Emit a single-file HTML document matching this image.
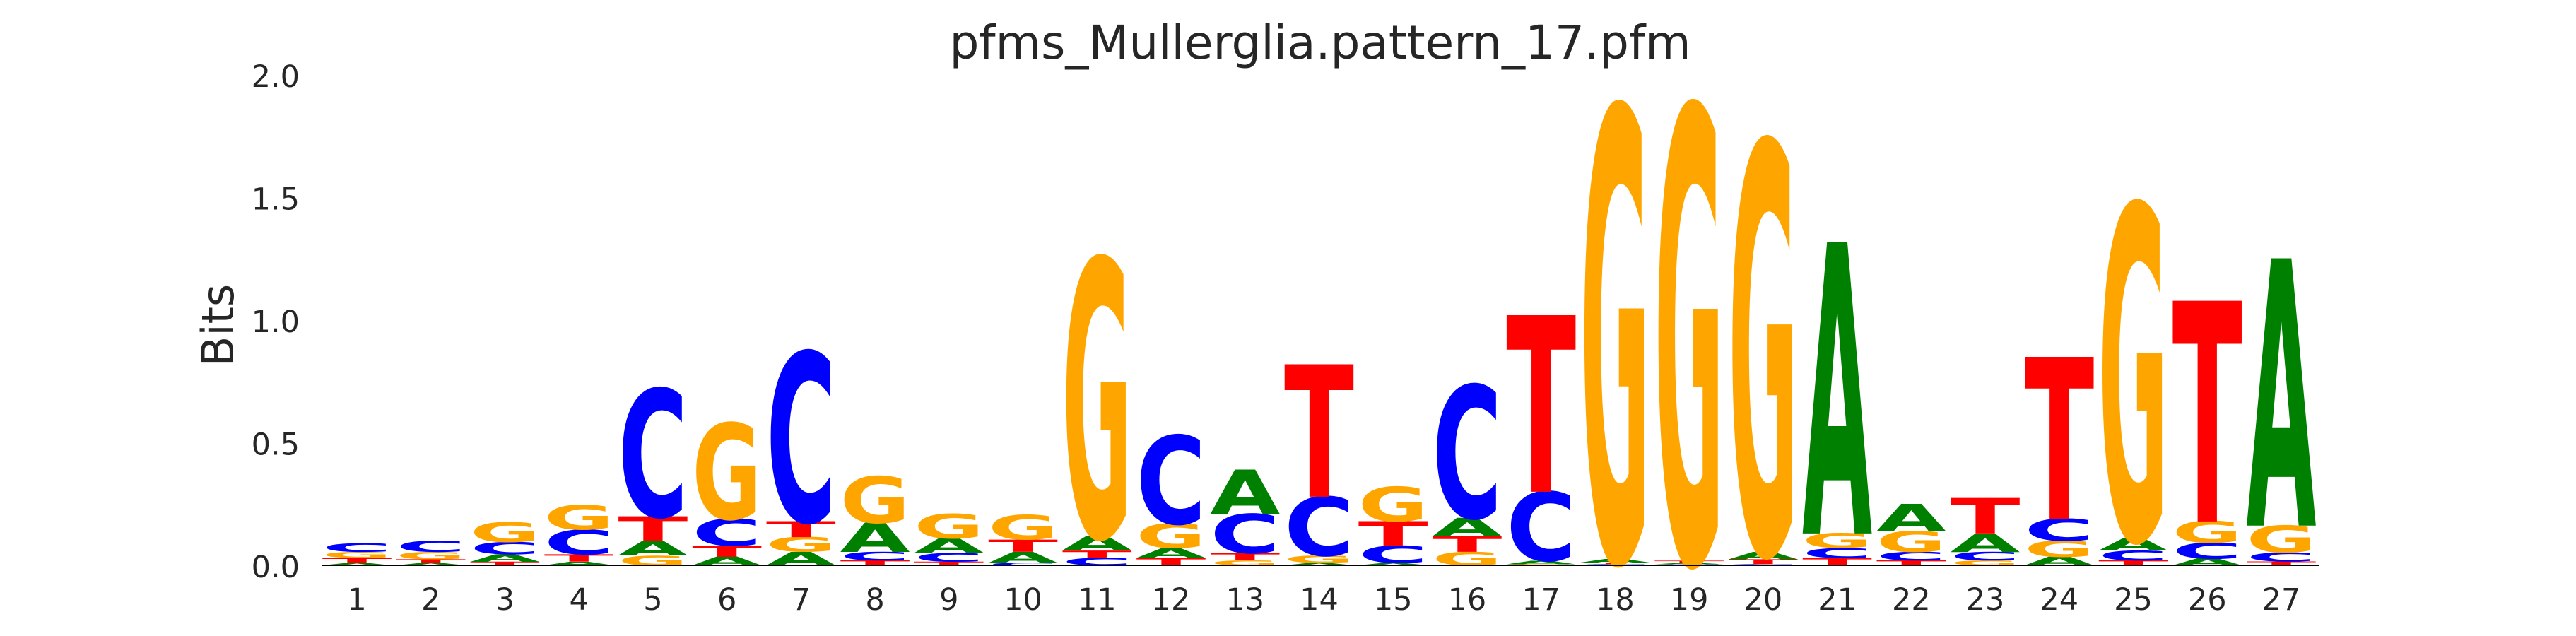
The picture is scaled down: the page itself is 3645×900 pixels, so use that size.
<!DOCTYPE html>
<html><head><meta charset="utf-8"><style>
html,body{margin:0;padding:0;background:#fff;width:3645px;height:900px;overflow:hidden;}
svg{display:block;overflow:hidden;}
text{font-family:"DejaVu Sans","Liberation Sans",sans-serif;}
</style></head><body>
<svg id="chart" width="3645" height="900" viewBox="0 0 3645 900" xmlns="http://www.w3.org/2000/svg">
<text x="1868" y="83" font-size="66" fill="#262626" text-anchor="middle" textLength="1049" lengthAdjust="spacingAndGlyphs">pfms_Mullerglia.pattern_17.pfm</text>
<text transform="translate(330,460) rotate(-90)" font-size="62" fill="#262626" text-anchor="middle">Bits</text>
<g id="yticks"></g>
<g id="xticks"></g>
<g id="letters"></g>
<line x1="456" y1="800" x2="3281" y2="800" stroke="#000" stroke-width="2"/>
</svg>
<script>
const positions = [1,2,3,4,5,6,7,8,9,10,11,12,13,14,15,16,17,18,19,20,21,22,23,24,25,26,27];
const valsA = [0.010,0.010,0.030,0.015,0.060,0.035,0.055,0.120,0.060,0.045,0.060,0.040,0.180,0.010,0.010,0.075,0.015,0.015,0.005,0.030,1.190,0.110,0.075,0.035,0.050,0.027,1.090];
const valsC = [0.035,0.045,0.050,0.100,0.520,0.110,0.690,0.035,0.035,0.010,0.030,0.360,0.160,0.240,0.070,0.540,0.280,0.005,0.004,0.005,0.040,0.035,0.035,0.090,0.040,0.065,0.036];
const valsG = [0.025,0.030,0.080,0.100,0.040,0.390,0.060,0.190,0.100,0.100,1.130,0.100,0.020,0.030,0.140,0.055,0.005,1.840,1.850,1.670,0.060,0.085,0.020,0.065,1.360,0.087,0.110];
const valsT = [0.020,0.015,0.015,0.030,0.100,0.045,0.065,0.020,0.015,0.050,0.030,0.030,0.030,0.540,0.100,0.065,0.720,0.006,0.010,0.020,0.030,0.020,0.145,0.660,0.020,0.900,0.016];
const yTicks = [0.0,0.5,1.0,1.5,2.0];
const yTickLabels = ["0.0","0.5","1.0","1.5","2.0"];

const NS = "http://www.w3.org/2000/svg";
const baseY = 800, pxPerBit = 347, x0 = 505, step = 104.73, letterW = 99;
const colors = {A:"#008000", C:"#0000ff", G:"#ffa500", T:"#ff0000"};
function xScale(i){ return x0 + i*step; }
function yScale(v){ return baseY - v*pxPerBit; }

const yg = document.getElementById("yticks");
yTicks.forEach((v,k)=>{
  const t = document.createElementNS(NS,"text");
  
  
  t.setAttribute("x", 424); t.setAttribute("y", yScale(v)+17);
  t.setAttribute("font-size", 43); t.setAttribute("fill", "#262626");
  t.setAttribute("text-anchor", "end");
  t.textContent = yTickLabels[k];
  yg.appendChild(t);
});
const xg = document.getElementById("xticks");
positions.forEach((p,i)=>{
  const t = document.createElementNS(NS,"text");
  
  
  t.setAttribute("x", xScale(i)); t.setAttribute("y", 863);
  t.setAttribute("font-size", 43); t.setAttribute("fill", "#262626");
  t.setAttribute("text-anchor", "middle");
  t.textContent = String(p);
  xg.appendChild(t);
});
const lg = document.getElementById("letters");
const capH = 72.9;
positions.forEach((p,i)=>{
  const stack = [["A",valsA[i]],["C",valsC[i]],["G",valsG[i]],["T",valsT[i]]].sort((a,b)=>a[1]-b[1]);
  let cum = 0;
  stack.forEach(([b,v])=>{
    const yb = yScale(cum);
    const h = v*pxPerBit;
    cum += v;
    if (h < 0.5) return;
    const t = document.createElementNS(NS,"text");
    
    
    t.setAttribute("x", 0); t.setAttribute("y", 0);
    t.setAttribute("font-size", 100);
    t.setAttribute("font-weight", "bold");
    t.setAttribute("fill", colors[b]);
    t.setAttribute("textLength", letterW);
    t.setAttribute("lengthAdjust", "spacingAndGlyphs");
    t.setAttribute("transform", "translate(" + (xScale(i)-letterW/2) + "," + yb + ") scale(1," + (h/capH) + ")");
    t.textContent = b;
    lg.appendChild(t);
  });
});
</script>
</body></html>
